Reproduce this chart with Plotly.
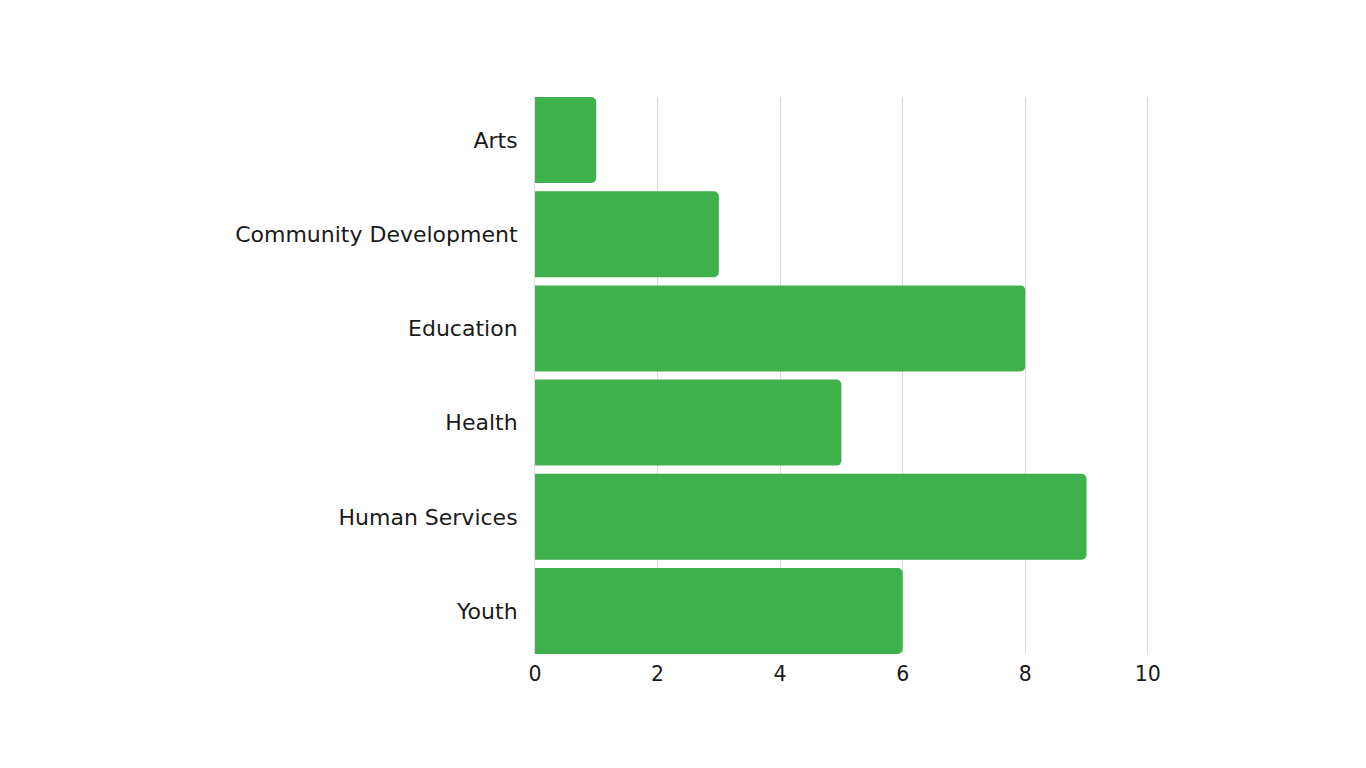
import plotly.graph_objects as go

categories = ["Arts", "Community Development", "Education", "Health", "Human Services", "Youth"]
values = [1, 3, 8, 5, 9, 6]
x_ticks = [0, 2, 4, 6, 8, 10]

gap = 0.087
fig = go.Figure(go.Bar(
    x=values, y=categories, orientation="h",
    marker=dict(color="#3EB04C", line=dict(width=0)),
    hoverinfo="x+y",
))
fig.update_layout(
    width=1366, height=768,
    margin=dict(l=527, r=225, t=89, b=122),
    paper_bgcolor="white", plot_bgcolor="white",
    bargap=gap, barcornerradius=5,
    font=dict(family="DejaVu Sans", size=21, color="#1a1a1a"),
    showlegend=False,
    xaxis=dict(range=[0, 10.02], tickvals=x_ticks, showgrid=True, gridcolor="#d9d9d9",
               gridwidth=1, zeroline=False, showline=False, ticks="",
               tickfont=dict(size=20.5), ticklabelstandoff=5),
    yaxis=dict(categoryorder="array", categoryarray=categories,
               range=[len(categories) - 0.5 - gap / 2, -0.5 + gap / 2],
               showgrid=False, zeroline=False, showline=True, linecolor="#e0e0e0",
               ticks="", tickfont=dict(size=22), ticklabelstandoff=12),
)
fig.write_html("out.html")
